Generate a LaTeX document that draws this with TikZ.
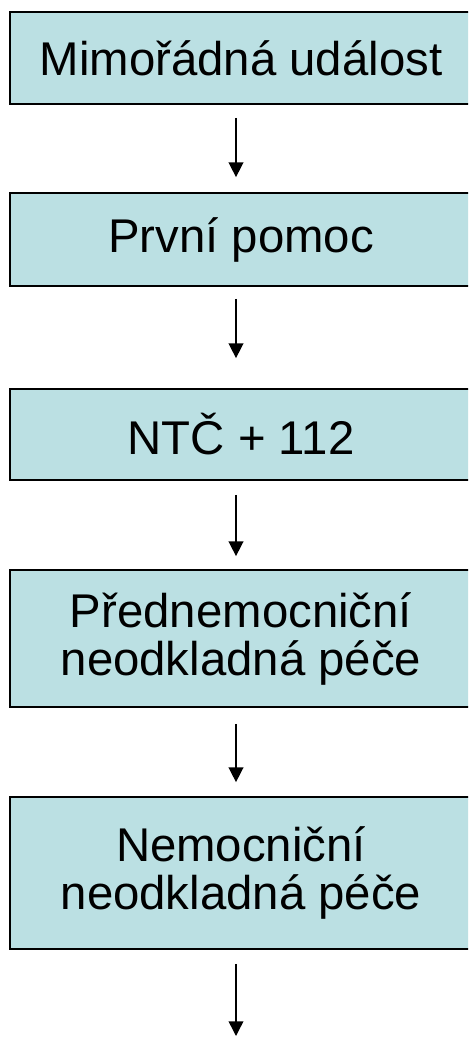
\documentclass[tikz,border=0pt]{standalone}
\usepackage{fontspec}
\setmainfont{Liberation Sans}
\usetikzlibrary{arrows.meta}
\definecolor{boxfill}{RGB}{187,224,227}
\tikzset{
  stage/.style={draw, line width=1.3pt, fill=boxfill, minimum width=346.5pt, align=center,
    inner sep=0pt, font=\fontsize{35.5}{36}\selectfont},
  link/.style={line width=1.1pt, -{Triangle[width=11pt,length=11pt]}}
}

\begin{document}
\begin{tikzpicture}[x=0.75pt, y=-0.75pt]
        \clip (0, 0) rectangle (468, 1038);
        \path (241, 58) node[stage, minimum height=69pt] (mu) {Mimořádná událost}
              (241, 239.5) node[stage, minimum height=69.75pt] (pp) {První pomoc}
              (241, 434.5) node[stage, minimum height=68.25pt] (ntc) {NTČ + 112}
              (241, 638.5) node[stage, minimum height=102.75pt] (pnp) {Přednemocniční\\neodkladná péče}
              (241, 873) node[stage, minimum height=114pt] (nnp) {Nemocniční\\neodkladná péče};
        \coordinate (end) at (236, 1036);

        \draw[link, shorten <=9.75pt, shorten >=11.25pt] ([xshift=-3.75pt]mu.south) -- ([xshift=-3.75pt]pp.north);
        \draw[link, shorten <=9pt, shorten >=22.5pt] ([xshift=-3.75pt]pp.south) -- ([xshift=-3.75pt]ntc.north);
        \draw[link, shorten <=10.5pt, shorten >=9.75pt] ([xshift=-3.75pt]ntc.south) -- ([xshift=-3.75pt]pnp.north);
        \draw[link, shorten <=12pt, shorten >=10.5pt] ([xshift=-3.75pt]pnp.south) -- ([xshift=-3.75pt]nnp.north);
        \draw[link, shorten <=10.5pt] ([xshift=-3.75pt]nnp.south) -- (end);
        \end{tikzpicture}
\end{document}
